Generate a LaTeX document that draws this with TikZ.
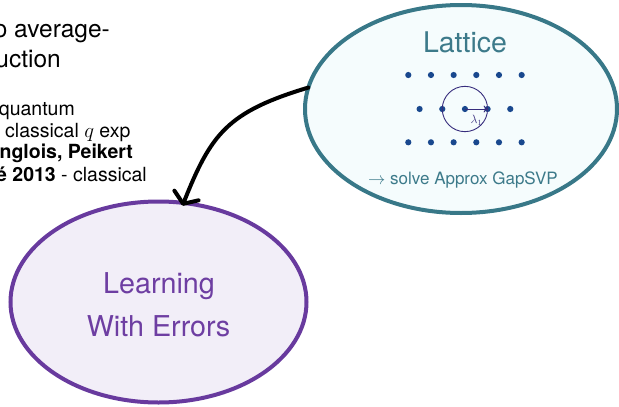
\documentclass[tikz,border=0pt]{standalone}
\usepackage{fontspec}
\setmainfont{TeX Gyre Heros}
\usetikzlibrary{shapes.geometric,arrows.meta}
\definecolor{latline}{RGB}{56,120,136}
\definecolor{latfill}{RGB}{245,252,253}
\definecolor{lattext}{RGB}{60,122,138}
\definecolor{lwline}{RGB}{104,58,158}
\definecolor{lwfill}{RGB}{242,238,248}
\definecolor{lwtext}{RGB}{110,62,162}
\definecolor{dotcol}{RGB}{25,72,142}
\definecolor{circcol}{RGB}{55,45,125}
\tikzset{
  bigell/.style={ellipse,draw,line width=4pt,outer sep=0pt,inner sep=0pt},
  latbox/.style={bigell,draw=latline,fill=latfill,minimum width=312pt,minimum height=208pt},
  lwebox/.style={bigell,draw=lwline,fill=lwfill,minimum width=296pt,minimum height=201pt},
  latdot/.style={circle,fill=dotcol,inner sep=0pt,minimum size=6.2pt},
  headtxt/.style={anchor=base east,font=\fontsize{24.5}{28}\selectfont,inner sep=0pt},
  bodytxt/.style={anchor=base east,font=\fontsize{19.5}{22}\selectfont,inner sep=0pt},
}
\begin{document}
\begin{tikzpicture}[x=1pt,y=-1pt]
\useasboundingbox (0,0) rectangle (619,407);
% left text (cut off)
\node[headtxt] (h1) at (110,37) {o average-};
\node[headtxt] (h2) at (61,67) {uction};
\node[bodytxt] (b1) at (75,115) {quantum};
\node[bodytxt,anchor=base west] (b2) at (5,137) {classical $q$ exp};
\node[bodytxt] (b3) at (133,158) {\textbf{nglois, Peikert}};
\node[bodytxt] (b4) at (147,181) {\textbf{é 2013} - classical};
% ellipses
\node[latbox] (lat) at (461,109) {};
\node[lwebox] (lwe) at (158.5,302) {};
% lattice text
\node[anchor=base,text=lattext,font=\fontsize{28.5}{32}\selectfont,inner sep=0pt] (lt) at (465,52) {Lattice};
\node[anchor=base,text=lattext,font=\fontsize{17}{20}\selectfont,inner sep=0pt] (gs) at (463,184) {$\rightarrow$ solve Approx GapSVP};
% lattice dots
\foreach \i in {0,...,5} {
  \node[latdot] (t\i) at ({408.3+22.67*\i},75) {};
  \node[latdot] (u\i) at ({408.3+22.67*\i},142.3) {};
}
\foreach \i in {0,...,4} {
  \node[latdot] (m\i) at ({419.6+22.67*\i},109) {};
}
\node[circle,draw=circcol,line width=0.9pt,minimum size=45.3pt,inner sep=0pt] (cc) at (m2.center) {};
\draw[circcol,line width=0.9pt,-{Computer Modern Rightarrow[length=4pt,width=7pt]}] (m2.center) -- (m3.center);
\node[text=circcol,font=\fontsize{12}{14}\selectfont,inner sep=0pt] (lam) at (476.5,120.5) {$\lambda_1$};
% LWE text
\node[anchor=base,text=lwtext,font=\fontsize{28.7}{32}\selectfont,inner sep=0pt] (l1) at (159,293) {Learning};
\node[anchor=base,text=lwtext,font=\fontsize{28.7}{32}\selectfont,inner sep=0pt] (l2) at (158.5,336) {With Errors};
% connector
\draw[line width=4pt,line cap=round,-{Straight Barb[length=9pt,width=26pt,round]}]
  (lat.172) .. controls (227,112) and (211,134) .. ([shift={(1pt,-3pt)}]lwe.77);
\end{tikzpicture}
\end{document}
